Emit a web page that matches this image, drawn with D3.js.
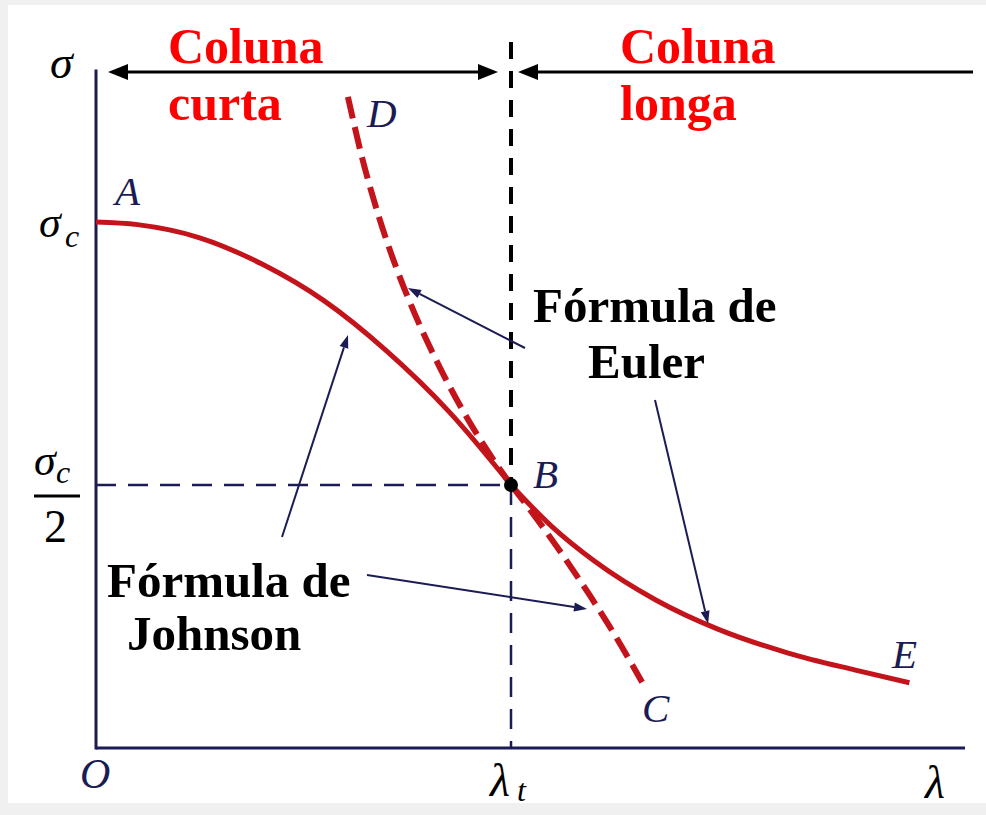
<!DOCTYPE html>
<html>
<head>
<meta charset="utf-8">
<script src="https://cdn.jsdelivr.net/npm/d3@7"></script>
<style>
  html, body { margin: 0; padding: 0; background: #f0f0f0; }
  svg { display: block; }
</style>
</head>
<body>
<svg id="chart" width="986" height="815"></svg>
<script>
// ---- data (λ in units of λt, σ in units of σc) ----
const johnsonLambda = [0, 0.1, 0.25, 0.4, 0.55, 0.7, 0.85, 1.0];
const johnsonSigma  = [1.0, 0.995, 0.97, 0.92, 0.85, 0.755, 0.64, 0.5];

const johnsonExtLambda = [1.0, 1.06, 1.12, 1.19, 1.25, 1.316];
const johnsonExtSigma  = [0.5, 0.438, 0.372, 0.29, 0.215, 0.125];

const eulerLambda = [1.0, 1.1, 1.2, 1.35, 1.5, 1.67, 1.83, 1.96];
const eulerSigma  = [0.5, 0.42, 0.356, 0.281, 0.2255, 0.18, 0.148, 0.124];

const eulerExtLambda = [0.607, 0.64, 0.68, 0.725, 0.77, 0.82, 0.88, 0.94, 1.0];
const eulerExtSigma  = [1.238, 1.126, 1.014, 0.91, 0.822, 0.737, 0.647, 0.569, 0.5];

const transitionLambda = 1.0;   // λt
const transitionSigma = 0.5;    // σc / 2
const lambdaMax = 2.094;
const sigmaMax = 1.29;

const pointLabels = ["A", "B", "C", "D", "E"];
const titleShort = ["Coluna", "curta"];
const titleLong = ["Coluna", "longa"];
const eulerText = ["Fórmula de", "Euler"];
const johnsonText = ["Fórmula de", "Johnson"];

// ---- setup ----
const svg = d3.select("#chart");
svg.append("rect").attr("x", 8).attr("y", 5).attr("width", 978).attr("height", 798).attr("fill", "#ffffff");

const x = d3.scaleLinear().domain([0, 1]).range([96, 511]);
const y = d3.scaleLinear().domain([0, 1]).range([748, 222]);

const NAVY = "#1b1b55";
const RED = "#c3141b";
const serif = "'Liberation Serif', 'Times New Roman', serif";

const zip = (a, b) => a.map((v, i) => [v, b[i]]);
const line = d3.line().x(d => x(d[0])).y(d => y(d[1])).curve(d3.curveMonotoneX);

// axes
svg.append("line").attr("x1", x(0)).attr("y1", y(0)).attr("x2", x(lambdaMax)).attr("y2", y(0))
  .attr("stroke", NAVY).attr("stroke-width", 3);
svg.append("line").attr("x1", x(0)).attr("y1", y(0) + 1.5).attr("x2", x(0)).attr("y2", y(sigmaMax))
  .attr("stroke", NAVY).attr("stroke-width", 3);

// guide dashed lines
svg.append("line").attr("x1", x(0)).attr("x2", x(transitionLambda))
  .attr("y1", y(transitionSigma)).attr("y2", y(transitionSigma))
  .attr("stroke", NAVY).attr("stroke-width", 2.5).attr("stroke-dasharray", "20,12");
svg.append("line").attr("x1", x(transitionLambda)).attr("x2", x(transitionLambda))
  .attr("y1", 42).attr("y2", y(transitionSigma))
  .attr("stroke", "#000").attr("stroke-width", 4).attr("stroke-dasharray", "17,12");
svg.append("line").attr("x1", x(transitionLambda)).attr("x2", x(transitionLambda))
  .attr("y1", y(transitionSigma)).attr("y2", y(0))
  .attr("stroke", NAVY).attr("stroke-width", 2.5).attr("stroke-dasharray", "20,12");

// curves
svg.append("path").attr("d", line(zip(eulerExtLambda, eulerExtSigma)))
  .attr("fill", "none").attr("stroke", RED).attr("stroke-width", 6).attr("stroke-dasharray", "22,9");
svg.append("path").attr("d", line(zip(johnsonExtLambda, johnsonExtSigma)))
  .attr("fill", "none").attr("stroke", RED).attr("stroke-width", 6).attr("stroke-dasharray", "22,9");
svg.append("path").attr("d", line(zip(johnsonLambda, johnsonSigma)))
  .attr("fill", "none").attr("stroke", RED).attr("stroke-width", 5);
svg.append("path").attr("d", line(zip(eulerLambda, eulerSigma)))
  .attr("fill", "none").attr("stroke", RED).attr("stroke-width", 5);

// point B
svg.append("circle").attr("cx", x(transitionLambda)).attr("cy", y(transitionSigma)).attr("r", 7).attr("fill", "#000");

// arrow helper
function arrow(x1, y1, x2, y2, color, w, headLen, headW) {
  const ang = Math.atan2(y2 - y1, x2 - x1);
  const bx = x2 - headLen * Math.cos(ang), by = y2 - headLen * Math.sin(ang);
  svg.append("line").attr("x1", x1).attr("y1", y1).attr("x2", bx).attr("y2", by)
    .attr("stroke", color).attr("stroke-width", w);
  const px = -Math.sin(ang) * headW / 2, py = Math.cos(ang) * headW / 2;
  svg.append("path").attr("d", `M${x2},${y2}L${bx + px},${by + py}L${bx - px},${by - py}Z`).attr("fill", color);
}

// top range arrows
arrow(300, 72, 498, 72, "#000", 3, 20, 16);
arrow(300, 72, 108, 72, "#000", 3, 20, 16);
arrow(973, 72, 518, 72, "#000", 3, 20, 16);

// annotation arrows (point to curves)
arrow(525, 348, 408, 288, NAVY, 2, 13, 9);
arrow(655, 400, x(1.475), y(0.236), NAVY, 2, 13, 9);
arrow(282, 537, 348, 335, NAVY, 2, 13, 9);
arrow(367, 575, 587, 609, NAVY, 2, 13, 9);

// titles
function multiline(lines, x0, y0, dy, fill, size) {
  lines.forEach((t, i) => {
    svg.append("text").attr("x", x0).attr("y", y0 + i * dy).text(t)
      .attr("font-family", serif).attr("font-weight", "bold").attr("font-size", size).attr("fill", fill);
  });
}
multiline(titleShort, 168, 63, 57, "#ff0000", 50);
multiline(titleLong, 620, 63, 57, "#ff0000", 50);
svg.append("text").attr("x", 533).attr("y", 322).text(eulerText[0])
  .attr("font-family", serif).attr("font-weight", "bold").attr("font-size", 49).attr("fill", "#000");
svg.append("text").attr("x", 588).attr("y", 378).text(eulerText[1])
  .attr("font-family", serif).attr("font-weight", "bold").attr("font-size", 49).attr("fill", "#000");
svg.append("text").attr("x", 107).attr("y", 597).text(johnsonText[0])
  .attr("font-family", serif).attr("font-weight", "bold").attr("font-size", 49).attr("fill", "#000");
svg.append("text").attr("x", 127).attr("y", 650).text(johnsonText[1])
  .attr("font-family", serif).attr("font-weight", "bold").attr("font-size", 49).attr("fill", "#000");

// point letters
const letterPos = {A: [115, 205], B: [533, 488], C: [642, 722], D: [367, 127], E: [892, 668]};
pointLabels.forEach(l => {
  svg.append("text").attr("x", letterPos[l][0]).attr("y", letterPos[l][1]).text(l)
    .attr("font-family", serif).attr("font-style", "italic").attr("font-size", 41).attr("fill", NAVY);
});
svg.append("text").attr("x", 80).attr("y", 788).text("O")
  .attr("font-family", serif).attr("font-style", "italic").attr("font-size", 42).attr("fill", NAVY);

// math labels
function mathText(t, x0, y0, size, italic = true) {
  return svg.append("text").attr("x", x0).attr("y", y0).text(t)
    .attr("font-family", serif).attr("font-style", italic ? "italic" : "normal")
    .attr("font-size", size).attr("fill", "#000");
}
mathText("σ", 50, 78, 46);
mathText("σ", 39, y(1) + 15, 44);
mathText("c", 65, y(1) + 25, 32);
mathText("σ", 34, 475, 44);
mathText("c", 56, 483, 32);
svg.append("line").attr("x1", 34).attr("x2", 80).attr("y1", 496).attr("y2", 496).attr("stroke", "#000").attr("stroke-width", 3);
mathText("2", 44, 542, 46, false);
mathText("λ", x(transitionLambda) - 21, 796, 46);
mathText("t", x(transitionLambda) + 6, 801, 32);
mathText("λ", 925, 798, 46);
</script>
</body>
</html>
